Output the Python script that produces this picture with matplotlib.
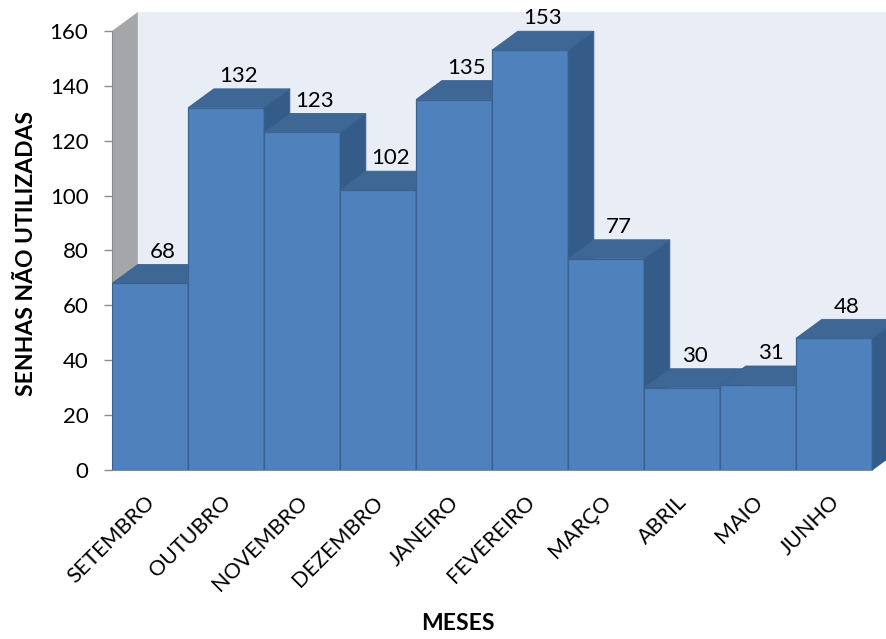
import matplotlib.pyplot as plt
from matplotlib.patches import Polygon
from matplotlib.transforms import ScaledTranslation

plt.rcParams['font.family'] = ['Lato', 'DejaVu Sans']

meses = ['SETEMBRO', 'OUTUBRO', 'NOVEMBRO', 'DEZEMBRO', 'JANEIRO',
         'FEVEREIRO', 'MARÇO', 'ABRIL', 'MAIO', 'JUNHO']
senhas = [68, 132, 123, 102, 135, 153, 77, 30, 31, 48]
yticks = [0, 20, 40, 60, 80, 100, 120, 140, 160]

# cores do grafico 3D (estilo Excel)
c_frente = '#4F81BD'
c_topo = '#3F6796'
c_lado = '#355C89'
c_borda = '#3A6390'
c_parede = '#E9EDF6'
c_parede_esq = '#A4A6A9'

# profundidade do 3D em unidades de dados
dx = 0.34
dy = 6.9
w = 1.0
ymax = 160

fig = plt.figure(figsize=(8.86, 6.39), dpi=100)
ax = fig.add_axes([112/886, 169/639, 774/886, 470/639])
ax.set_xlim(-0.5, -0.5 + 774/76)
ax.set_ylim(0, 470/2.744)
ax.set_facecolor('none')
for s in ['top', 'right']:
    ax.spines[s].set_visible(False)

x0 = -0.5
x1 = len(senhas) - 0.5

# parede do fundo
ax.add_patch(Polygon([(x0+dx, dy), (x1+dx+1, dy), (x1+dx+1, ymax+dy), (x0+dx, ymax+dy)],
                     closed=True, fc=c_parede, ec='none', zorder=0, clip_on=False))
# parede lateral esquerda
ax.add_patch(Polygon([(x0, 0), (x0+dx, dy), (x0+dx, ymax+dy), (x0, ymax)],
                     closed=True, fc=c_parede_esq, ec='none', zorder=0.5, clip_on=False))
# piso
ax.add_patch(Polygon([(x0, 0), (x1, 0), (x1+dx, dy), (x0+dx, dy)],
                     closed=True, fc='#B9BCC0', ec='#9A9DA1', lw=0.8, zorder=0.6, clip_on=False))

for i, v in enumerate(senhas):
    l = i - w/2
    r = i + w/2
    z = 2 + i
    # frente
    ax.bar(i, v, width=w, color=c_frente, edgecolor=c_borda, linewidth=0.9, zorder=z)
    # topo
    ax.add_patch(Polygon([(l, v), (r, v), (r+dx, v+dy), (l+dx, v+dy)], closed=True,
                         fc=c_topo, ec=c_borda, lw=0.6, zorder=z))
    # lado direito
    ax.add_patch(Polygon([(r, 0), (r+dx, dy), (r+dx, v+dy), (r, v)], closed=True,
                         fc=c_lado, ec=c_borda, lw=0.6, zorder=z, clip_on=False))
    ax.text(i + dx/2, v + dy + 1.0, str(v), ha='center', va='bottom',
            fontsize=16, zorder=20)

ax.spines['left'].set_bounds(0, ymax)
ax.spines['left'].set_color('#8C8C8C')
ax.spines['left'].set_zorder(1)
ax.spines['bottom'].set_bounds(x0, x1)
ax.spines['bottom'].set_color('#8C8C8C')
ax.spines['bottom'].set_zorder(30)

ax.set_yticks(yticks)
ax.tick_params(axis='y', length=6, width=1, color='#8C8C8C', labelsize=16, pad=11)
ax.set_xticks(range(len(meses)))
ax.set_xticklabels(meses, rotation=45, ha='right', va='center', rotation_mode='anchor')
ax.tick_params(axis='x', length=0, labelsize=15.5, pad=21)
desloc = ScaledTranslation(2/100, 0, fig.dpi_scale_trans)
for t in ax.get_xticklabels():
    t.set_transform(t.get_transform() + desloc)

ax.set_ylabel('SENHAS NÃO UTILIZADAS', fontsize=16.5, fontweight='bold')
ax.yaxis.set_label_coords(-0.111, (470-253)/470)
ax.set_xlabel('MESES', fontsize=16.5, fontweight='bold')
ax.xaxis.set_label_coords((458-112)/774, -(623-470)/470)
ax.xaxis.label.set_va('center')
ax.yaxis.label.set_va('center')

fig.savefig('out.png', dpi=100)
